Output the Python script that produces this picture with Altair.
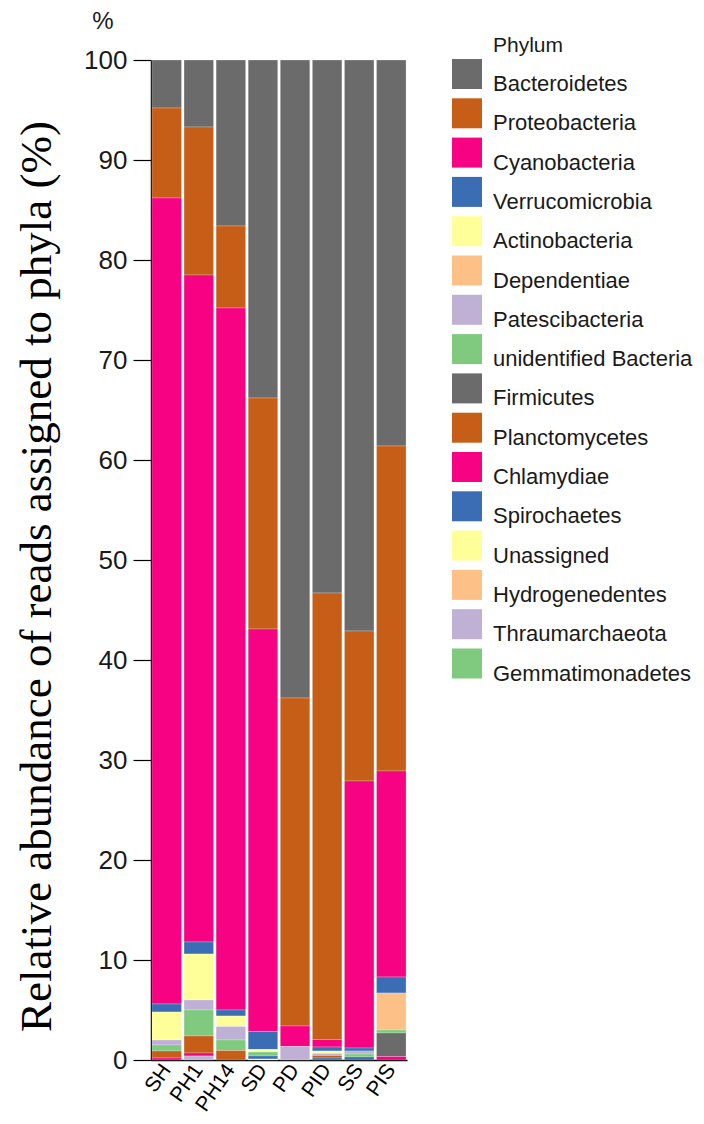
import altair as alt
import pandas as pd

samples = ["SH", "PH1", "PH14", "SD", "PD", "PID", "SS", "PIS"]

phyla = [
    "Bacteroidetes", "Proteobacteria", "Cyanobacteria", "Verrucomicrobia",
    "Actinobacteria", "Dependentiae", "Patescibacteria", "unidentified Bacteria",
    "Firmicutes", "Planctomycetes", "Chlamydiae", "Spirochaetes",
    "Unassigned", "Hydrogenedentes", "Thraumarchaeota", "Gemmatimonadetes",
]

colors = [
    "#6b6b6b", "#c65e18", "#f70282", "#3a6db3",
    "#ffff99", "#fdc086", "#bfb0d6", "#7fca7f",
    "#6b6b6b", "#c65e18", "#f70282", "#3a6db3",
    "#ffff99", "#fdc086", "#bfb0d6", "#7fca7f",
]

# values in phyla order (percent)
SH   = [4.8, 9.0, 80.6, 0.8, 2.8, 0.0, 0.5, 0.6, 0.0, 0.7, 0.2, 0.0, 0.0, 0.0, 0.0, 0.0]
PH1  = [6.7, 14.8, 66.7, 1.2, 4.6, 0.0, 1.0, 2.6, 0.0, 1.7, 0.3, 0.0, 0.0, 0.0, 0.4, 0.0]
PH14 = [16.6, 8.2, 70.2, 0.6, 1.05, 0.0, 1.35, 1.05, 0.0, 0.95, 0.0, 0.0, 0.0, 0.0, 0.0, 0.0]
SD   = [33.8, 23.1, 40.25, 1.8, 0.25, 0.0, 0.0, 0.4, 0.0, 0.0, 0.0, 0.3, 0.1, 0.0, 0.0, 0.0]
PD   = [63.8, 32.8, 2.05, 0.0, 0.0, 0.0, 1.35, 0.0, 0.0, 0.0, 0.0, 0.0, 0.0, 0.0, 0.0, 0.0]
PID  = [53.3, 44.65, 0.75, 0.4, 0.25, 0.0, 0.2, 0.0, 0.0, 0.25, 0.0, 0.2, 0.0, 0.0, 0.0, 0.0]
SS   = [57.1, 15.0, 26.7, 0.3, 0.0, 0.0, 0.3, 0.3, 0.0, 0.0, 0.0, 0.3, 0.0, 0.0, 0.0, 0.0]
PIS  = [38.6, 32.5, 20.6, 1.6, 0.0, 3.7, 0.0, 0.3, 2.35, 0.0, 0.35, 0.0, 0.0, 0.0, 0.0, 0.0]

series = [SH, PH1, PH14, SD, PD, PID, SS, PIS]

rows = []
for s, vals in zip(samples, series):
    for i, (p, v) in enumerate(zip(phyla, vals)):
        if v > 0:
            rows.append({"sample": s, "phylum": p, "value": v, "idx": i})
df = pd.DataFrame(rows)

bars = alt.Chart(df).mark_bar(stroke="white", strokeWidth=0.4, strokeOpacity=0.6).encode(
    x=alt.X(
        "sample:N", sort=samples,
        scale=alt.Scale(paddingInner=0.08, paddingOuter=0.03),
        axis=alt.Axis(title=None, labelAngle=-55, labelFontSize=21, labelFont="Liberation Sans",
                      labelColor="black", ticks=False, domainColor="black", domainWidth=1.5,
                      labelPadding=6),
    ),
    y=alt.Y(
        "value:Q", stack="zero",
        scale=alt.Scale(domain=[0, 100], nice=False),
        axis=alt.Axis(values=list(range(0, 101, 10)), grid=False,
                      title="Relative abundance of reads assigned to phyla (%)",
                      titleFont="Liberation Serif", titleFontSize=45, titleFontWeight="normal",
                      titleColor="black", titleX=-101, titleY=516, titleAngle=270,
                      titleBaseline="alphabetic", titleAlign="center",
                      tickSize=18, tickColor="black", tickWidth=1.2,
                      domainColor="black", domainWidth=1.5,
                      labelFont="Liberation Sans", labelFontSize=26, labelColor="#1a1a1a",
                      labelPadding=6),
    ),
    color=alt.Color(
        "phylum:N",
        scale=alt.Scale(domain=phyla, range=colors),
        legend=alt.Legend(title=None, orient="none", legendX=301, legendY=-1,
                          symbolType="square", symbolSize=900, symbolStrokeWidth=0,
                          symbolOpacity=1, labelFont="Liberation Sans", labelFontSize=22,
                          labelColor="#1a1a1a", labelOffset=11, rowPadding=3.3,
                          labelBaseline="top", labelLimit=300, padding=0),
    ),
    order=alt.Order("idx:Q", sort="descending"),
)

pct = alt.Chart(pd.DataFrame({"t": ["%"]})).mark_text(
    font="Liberation Sans", fontSize=24, align="center", baseline="middle", color="#1a1a1a"
).encode(x=alt.value(-48), y=alt.value(-38), text="t:N")

phylum_title = alt.Chart(pd.DataFrame({"t": ["Phylum"]})).mark_text(
    font="Liberation Sans", fontSize=21, align="left", baseline="alphabetic", color="#1a1a1a"
).encode(x=alt.value(342), y=alt.value(-8), text="t:N")

chart = alt.layer(bars, pct, phylum_title).properties(
    width=256, height=1000,
    autosize=alt.AutoSizeParams(type="none"),
    padding={"left": 143, "top": 52, "right": 288, "bottom": 64},
).configure_view(stroke=None)

chart.save("out.html", embed_options={"renderer": "svg", "actions": False})
